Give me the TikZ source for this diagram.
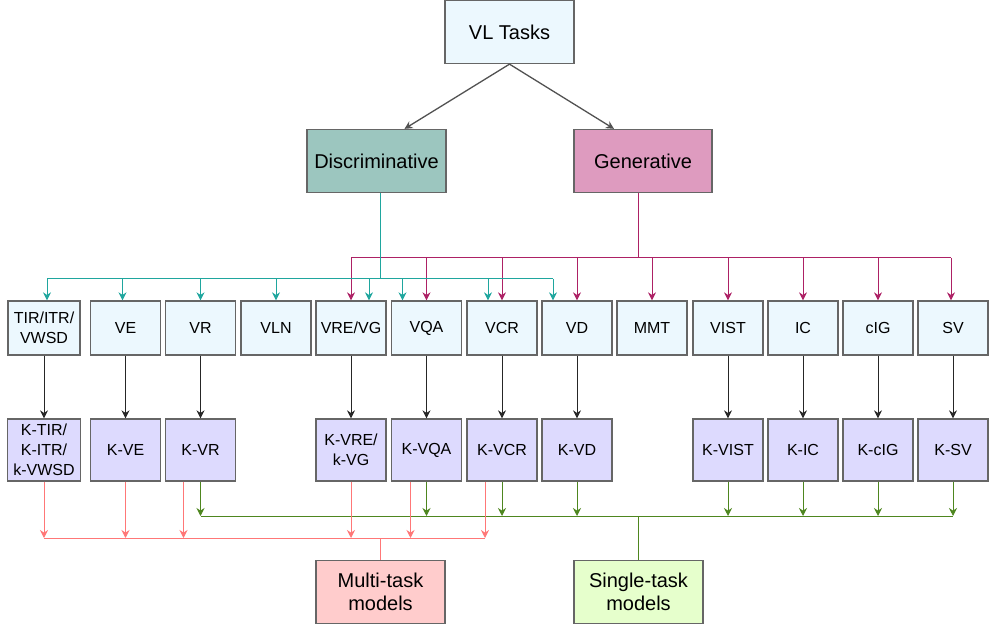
\documentclass[tikz,border=0pt]{standalone}
\usepackage{fontspec}
\setmainfont{Liberation Sans}
\usepackage{tikz}
\usetikzlibrary{arrows.meta, calc}

\definecolor{taskblue}{HTML}{ECF8FE}
\definecolor{discteal}{HTML}{9CC6BF}
\definecolor{genpink}{HTML}{DE9BBF}
\definecolor{kviolet}{HTML}{DDDAFE}
\definecolor{multired}{HTML}{FFCCCC}
\definecolor{singlegreen}{HTML}{E6FFCC}
\definecolor{tealline}{HTML}{1FA69E}
\definecolor{pinkline}{HTML}{AD2165}
\definecolor{redline}{HTML}{FF7777}
\definecolor{greenline}{HTML}{4E861F}
\definecolor{boxgray}{HTML}{666666}

\begin{document}
\begin{tikzpicture}[x=1pt, y=-1pt, >={Stealth[length=8pt,width=8pt]},
    box/.style={draw=boxgray, line width=1.3pt, align=center, inner sep=1pt},
    taskbox/.style={box, fill=taskblue, minimum width=70pt, minimum height=54pt, font=\fontsize{16}{19.5}\selectfont},
    kbox/.style={box, fill=kviolet, minimum width=70pt, minimum height=62pt, font=\fontsize{16}{20}\selectfont},
    bigbox/.style={box, minimum width=129pt, minimum height=63pt, font=\fontsize{20}{23}\selectfont},
    link/.style={line width=1pt}]
    \useasboundingbox (0,0) rectangle (989,628);

    % top of the tree
    \node[bigbox, fill=taskblue] (tasks) at (509.5,32) {VL Tasks};
    \node[bigbox, fill=discteal, minimum width=139pt] (disc) at (376.5,161) {Discriminative};
    \node[bigbox, fill=genpink, minimum width=138pt] (gen) at (643,161) {Generative};
    \draw[link, line width=1.3pt, ->, boxgray!80!black] (tasks.south) -- ([xshift=28]disc.north);
    \draw[link, line width=1.3pt, ->, boxgray!80!black] (tasks.south) -- ([xshift=-29]gen.north);

    % tasks
    \node[taskbox, minimum width=72pt] (tir) at (44,328) {TIR/ITR/\\VWSD};
    \node[taskbox] (ve) at (125.5,328) {VE};
    \node[taskbox] (vr) at (200.5,328) {VR};
    \node[taskbox] (vln) at (276,328) {VLN};
    \node[taskbox] (vre) at (351,328) {VRE/VG};
    \node[taskbox] (vqa) at (426.5,328) {VQA};
    \node[taskbox] (vcr) at (502,328) {VCR};
    \node[taskbox] (vd) at (577,328) {VD};
    \node[taskbox] (mmt) at (652,328) {MMT};
    \node[taskbox] (vist) at (728,328) {VIST};
    \node[taskbox] (ic) at (803,328) {IC};
    \node[taskbox] (cig) at (878,328) {cIG};
    \node[taskbox] (sv) at (953,328) {SV};

    % knowledge-enhanced tasks
    \node[kbox, minimum width=73pt] (ktir) at (44,450) {K-TIR/\\K-ITR/\\k-VWSD};
    \node[kbox] (kve) at (125.5,450) {K-VE};
    \node[kbox] (kvr) at (200.5,450) {K-VR};
    \node[kbox] (kvre) at (351,450) {K-VRE/\\k-VG};
    \node[kbox] (kvqa) at (426.5,450) {K-VQA};
    \node[kbox] (kvcr) at (502,450) {K-VCR};
    \node[kbox] (kvd) at (577,450) {K-VD};
    \node[kbox] (kvist) at (728,450) {K-VIST};
    \node[kbox] (kic) at (803,450) {K-IC};
    \node[kbox] (kcig) at (878,450) {K-cIG};
    \node[kbox] (ksv) at (953,450) {K-SV};

    % model types
    \node[bigbox, fill=multired] (multi) at (380.5,592) {Multi-task\\models};
    \node[bigbox, fill=singlegreen] (single) at (638.5,592) {Single-task\\models};

    % generative branch
    \coordinate (gbus) at (638,258);
    \draw[link, pinkline] ([xshift=-5]gen.south) -- ([xshift=-5]gen.south |- gbus);
    \draw[link, pinkline] (vre.north |- gbus) -- ([xshift=-2]sv.north |- gbus);
    \foreach \n/\s in {vre/0, vqa/0, vcr/0, vd/0, mmt/0, vist/0, ic/0, cig/0, sv/-2}
        \draw[link, pinkline, ->] ([xshift=\s]\n.north |- gbus) -- ([xshift=\s]\n.north);

    % discriminative branch
    \coordinate (dbus) at (380,279);
    \draw[link, tealline] ([xshift=3.5]disc.south) -- ([xshift=3.5]disc.south |- dbus);
    \draw[link, tealline] ([xshift=3]tir.north |- dbus) -- ([xshift=-24]vd.north |- dbus);
    \foreach \n/\s in {tir/3, ve/-3, vr/0, vln/0, vre/18, vqa/-24, vcr/-14, vd/-24}
        \draw[link, tealline, ->] ([xshift=\s]\n.north |- dbus) -- ([xshift=\s]\n.north);

    % task -> knowledge task
    \foreach \n in {tir, ve, vr, vre, vqa, vcr, vd, vist, ic, cig, sv}
        \draw[link, ->, black!85] (\n.south) -- (k\n.north);

    % single-task models
    \coordinate (sbus) at (639,516);
    \draw[link, greenline] (kvr.south |- sbus) -- (ksv.south |- sbus);
    \draw[link, greenline] (single.north |- sbus) -- (single.north);
    \foreach \n in {kvr, kvqa, kvcr, kvd, kvist, kic, kcig, ksv}
        \draw[link, greenline, ->] (\n.south) -- (\n.south |- sbus);

    % multi-task models
    \coordinate (mbus) at (380,538);
    \draw[link, redline] (ktir.south |- mbus) -- ([xshift=-17]kvcr.south |- mbus);
    \draw[link, redline] (multi.north |- mbus) -- (multi.north);
    \foreach \n/\s in {ktir/0, kve/0, kvr/-17, kvre/0, kvqa/-16, kvcr/-17}
        \draw[link, redline, ->] ([xshift=\s]\n.south) -- ([xshift=\s]\n.south |- mbus);
\end{tikzpicture}
\end{document}
